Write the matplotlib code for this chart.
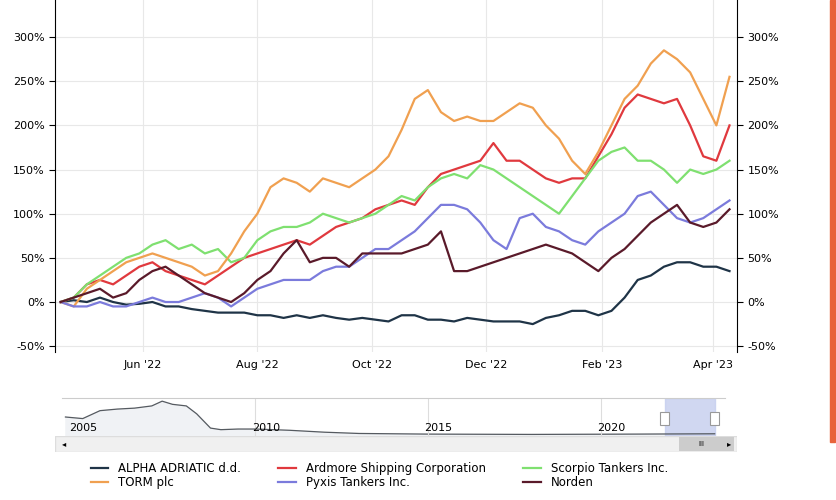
import matplotlib
matplotlib.use("Agg")
import matplotlib.pyplot as plt
import matplotlib.dates as mdates
import numpy as np
import pandas as pd
from matplotlib.patches import Rectangle

dates = pd.date_range("2022-04-18", periods=52, freq="7D")
alpha = [0,2,0,5,0,-3,-2,0,-5,-5,-8,-10,-12,-12,-12,-15,-15,-18,-15,-18,-15,-18,-20,-18,-20,-22,-15,-15,-20,-20,-22,-18,-20,-22,-22,-22,-25,-18,-15,-10,-10,-15,-10,5,25,30,40,45,45,40,40,35]
ardmore = [0,5,20,25,20,30,40,45,35,30,25,20,30,40,50,55,60,65,70,65,75,85,90,95,105,110,115,110,130,145,150,155,160,180,160,160,150,140,135,140,140,165,190,220,235,230,225,230,200,165,160,200]
scorpio = [0,5,20,30,40,50,55,65,70,60,65,55,60,45,50,70,80,85,85,90,100,95,90,95,100,110,120,115,130,140,145,140,155,150,140,130,120,110,100,120,140,160,170,175,160,160,150,135,150,145,150,160]
torm = [0,-5,15,25,35,45,50,55,50,45,40,30,35,55,80,100,130,140,135,125,140,135,130,140,150,165,195,230,240,215,205,210,205,205,215,225,220,200,185,160,145,170,200,230,245,270,285,275,260,230,200,255]
pyxis = [0,-5,-5,0,-5,-5,0,5,0,0,5,10,5,-5,5,15,20,25,25,25,35,40,40,50,60,60,70,80,95,110,110,105,90,70,60,95,100,85,80,70,65,80,90,100,120,125,110,95,90,95,105,115]
norden = [0,5,10,15,5,10,25,35,40,30,20,10,5,0,10,25,35,55,70,45,50,50,40,55,55,55,55,60,65,80,35,35,40,45,50,55,60,65,60,55,45,35,50,60,75,90,100,110,90,85,90,105]

names = ["ALPHA ADRIATIC d.d.", "Ardmore Shipping Corporation", "Scorpio Tankers Inc.",
         "TORM plc", "Pyxis Tankers Inc.", "Norden"]
series = [alpha, ardmore, scorpio, torm, pyxis, norden]
colors = ["#1f3447", "#e0393e", "#7fe070", "#f0a050", "#7b7bdc", "#5a1a2a"]

nav_years = [2004.5, 2005, 2005.5, 2006, 2006.5, 2007, 2007.3, 2007.6, 2008, 2008.3, 2008.7, 2009, 2009.5, 2010, 2011, 2012, 2013, 2015, 2018, 2021, 2023.3]
nav_vals = [60, 55, 80, 85, 88, 95, 110, 100, 95, 70, 25, 20, 22, 22, 18, 12, 8, 6, 5, 6, 7]

fig = plt.figure(figsize=(8.37, 5.0), dpi=100)
ax = fig.add_axes([55/837, 1-352/500, 682/837, 352/500])
for s, c, n in zip(series, colors, names):
    ax.plot(dates, s, color=c, lw=1.6, label=n)
ax.set_ylim(-56.6, 342)
ax.set_xlim(pd.Timestamp("2022-04-15"), pd.Timestamp("2023-04-14"))
yt = [-50, 0, 50, 100, 150, 200, 250, 300]
ax.set_yticks(yt)
ax.set_yticklabels([f"{v}%" for v in yt], fontsize=8)
ax.xaxis.set_major_locator(mdates.MonthLocator(bymonth=[2, 4, 6, 8, 10, 12]))
ax.xaxis.set_major_formatter(mdates.DateFormatter("%b '%y"))
ax.tick_params(axis="x", labelsize=8, length=0, pad=6)
ax.tick_params(axis="y", length=4, direction="out")
ax.grid(True, color="#e8e8e8", lw=0.8)
for sp in ["top", "right", "bottom"]:
    ax.spines[sp].set_visible(False)
ax.spines["left"].set_color("black")
ax2 = ax.twinx()
ax2.set_ylim(ax.get_ylim())
ax2.set_yticks(yt)
ax2.set_yticklabels([f"{v}%" for v in yt], fontsize=8)
ax2.tick_params(axis="y", length=4, direction="out")
for sp in ["top", "left", "bottom"]:
    ax2.spines[sp].set_visible(False)
ax2.spines["right"].set_color("black")

# navigator
nav = fig.add_axes([62/837, 1-436/500, 663/837, 38/500])
nav.fill_between(nav_years, nav_vals, 0, color="#f0f2f5")
nav.plot(nav_years, nav_vals, color="#555a60", lw=0.9)
nav.set_xlim(2004.4, 2023.6)
nav.set_ylim(0, 120)
nav.axvspan(2021.85, 2023.3, color="#c5cdee", alpha=0.8)
for xv in [2010, 2015, 2020]:
    nav.axvline(xv, color="#dddddd", lw=0.8)
for yr in [2005, 2010, 2015, 2020]:
    nav.text(yr - 0.1 if yr != 2005 else 2004.6, 10, str(yr), fontsize=8, va="bottom")
nav.set_xticks([]); nav.set_yticks([])
for sp in nav.spines.values():
    sp.set_visible(False)
nav.spines["top"].set_visible(True); nav.spines["top"].set_color("#cccccc")
for hx in [2021.85, 2023.3]:
    nav.add_patch(Rectangle((hx - 0.12, 35), 0.24, 40, facecolor="white", edgecolor="#999", lw=0.8, zorder=5))
sb = fig.add_axes([55/837, 1-452/500, 682/837, 16/500])
sb.set_xlim(0, 1); sb.set_ylim(0, 1)
sb.add_patch(Rectangle((0, 0), 1, 1, facecolor="#f0f0f0", edgecolor="#dddddd"))
sb.add_patch(Rectangle((0.915, 0.05), 0.08, 0.9, facecolor="#cccccc"))
sb.text(0.01, 0.5, "◂", fontsize=6, va="center"); sb.text(0.985, 0.5, "▸", fontsize=6, va="center")
sb.text(0.943, 0.5, "III", fontsize=5, va="center")
sb.axis("off")

# orange side bar
fig.add_artist(Rectangle((830/837, 1-442/500), 5/837, 442/500, transform=fig.transFigure, color="#e8623a"))

h, l = ax.get_legend_handles_labels()
order = [0, 3, 1, 4, 2, 5]
fig.legend([h[i] for i in order], [l[i] for i in order], ncol=3, loc="lower left",
           bbox_to_anchor=(80/837, 0.0), frameon=False, fontsize=8.5,
           handlelength=1.5, columnspacing=3.2, labelspacing=0.1)
fig.savefig("out.png", dpi=100)
